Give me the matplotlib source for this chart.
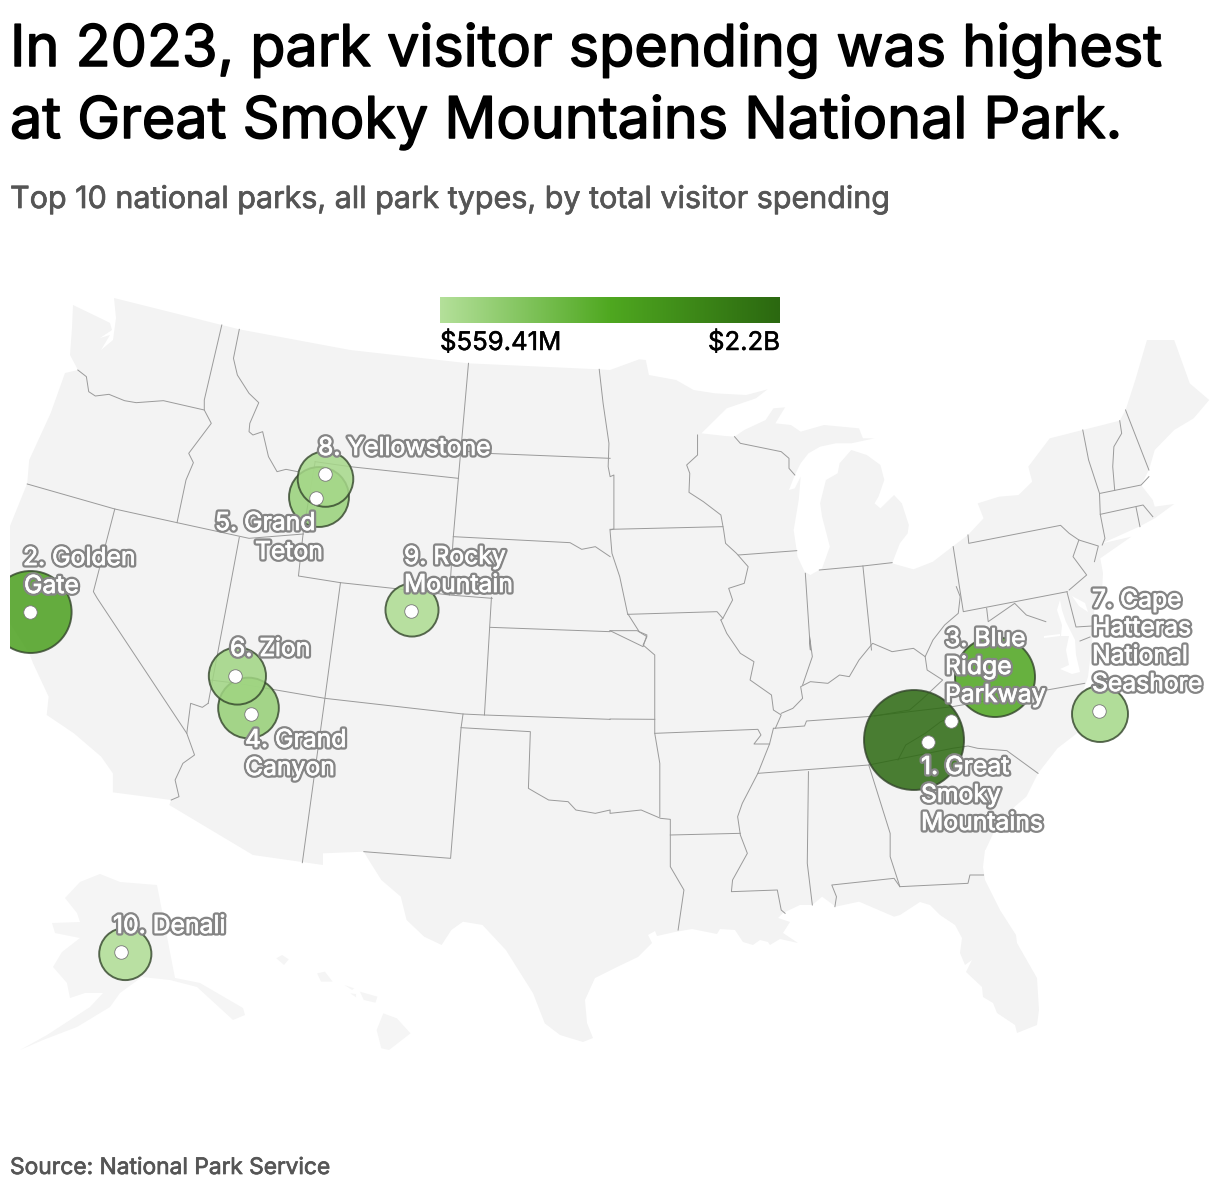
import numpy as np
import matplotlib
matplotlib.use("Agg")
import matplotlib.pyplot as plt
import matplotlib.patheffects as pe
from matplotlib.colors import LinearSegmentedColormap, Normalize
from matplotlib.patches import Circle, Polygon, Rectangle

plt.rcParams['font.family'] = ['Inter', 'DejaVu Sans']

# ---------- data ----------
parks = ["Great Smoky Mountains", "Golden Gate", "Blue Ridge Parkway", "Grand Canyon", "Grand Teton",
         "Zion", "Cape Hatteras National Seashore", "Yellowstone", "Rocky Mountain", "Denali"]
spending_b = [2.2, 1.48, 1.41, 0.81, 0.79, 0.72, 0.69, 0.68, 0.62, 0.6]
bubble_x = [914, 30.6, 995, 248.5, 319, 237.4, 1100, 325.5, 412, 125.3]
bubble_y = [740, 612, 677, 708, 497, 676, 714, 479, 610, 954]
site_x = [928, 30, 951, 251, 315.5, 235, 1099, 325, 410.5, 120.6]
site_y = [742, 612, 721, 714, 498, 676, 711, 474, 611, 952]
label_lines = [("1. Great", 921, 774), ("Smoky", 921, 802), ("Mountains", 921, 830),
               ("2. Golden", 23, 565), ("Gate", 24, 593),
               ("3. Blue", 945, 646), ("Ridge", 945, 674), ("Parkway", 945, 702),
               ("4. Grand", 245, 747), ("Canyon", 245, 775),
               ("5. Grand", 215, 530), ("Teton", 255, 559),
               ("6. Zion", 230, 656),
               ("7. Cape", 1092, 607), ("Hatteras", 1092, 635), ("National", 1092, 663), ("Seashore", 1092, 691),
               ("8. Yellowstone", 318, 455),
               ("9. Rocky", 404, 564), ("Mountain", 404, 592),
               ("10. Denali", 113, 933)]
legend_min = "$559.41M"
legend_max = "$2.2B"
title_lines = ["In 2023, park visitor spending was highest",
               "at Great Smoky Mountains National Park."]
subtitle = "Top 10 national parks, all park types, by total visitor spending"
source = "Source: National Park Service"

def Z(x0, y0, pts):
    return [(x0 + x / 2.57, y0 + y / 3.0) for x, y in pts]
def z1(p): return Z(0, 280, p)
def z2(p): return Z(610, 330, p)
def z3(p): return Z(0, 590, p)
def z4(p): return Z(610, 620, p)

conus = (
    [(73,305),(100,318),(110,323),(112,330),(100,338),(110,335),(101,350),(113,340),(116,318),(114,298)]
    + z1([(570,135),(615,148),(900,210),(1204,250),(1540,268)])
    + z2([(0,120),(75,88),(92,90),(100,135),(170,150),(215,180),(270,190),(350,195),(405,178),(375,205),(300,235),
          (235,310),(296,318),(320,320),(345,300),(400,270),(420,235),(450,232),(425,280),(465,285),(490,305),
          (550,285),(640,295),(650,325),(680,325),(620,340),(580,340),(540,350),(510,370),(490,400),(475,435),
          (460,480),(475,475),(490,440),(485,510),(475,580),(472,600),(482,680),(500,725),(515,735),(545,715),
          (565,650),(545,560),(540,520),(555,450),(585,430),(590,400),(620,360),(660,375),(695,405),(705,450),
          (690,500),(680,520),(695,535),(730,495),(750,520),(768,585),(765,610),(745,640),(725,700),(780,718),
          (830,695),(880,650),(920,615),(960,565),(945,520),(1000,500),(1050,495),(1085,455),(1075,410),(1130,325),
          (1310,272),(1325,240),(1350,150),(1380,30),(1450,30),(1490,160),(1540,210),(1500,265),(1450,300),
          (1400,360),(1385,420),(1365,465),(1395,510),(1400,530),(1450,522),(1400,565),(1360,590),(1265,640),
          (1340,620),(1260,685)])
    + [(1103,573),(1102,592),(1095,603),(1093,625),(1092,645),(1090,660),(1088,677)]
    + z4([(1190,300),(1200,340),(1150,385),(1100,460),(1070,530),(1040,560),(985,640),(965,690)])
    + [(985,850),(983,867),(985,880),(1000,910),(1016,935),(1017,943),(1037,978),(1039,1010),(1037,1025),(1017,1033),
       (1015,1025),(997,1013),(993,1003),(983,997),(982,987),(966,972),(972,960),(965,965),(960,953),(962,938),
       (955,925),(940,915),(930,905),(920,902),(900,915)]
    + z4([(730,890),(640,845),(580,860),(545,830),(520,855)])
    + [(800,905),(783,913),(778,918),(790,922),(783,933),(798,943),(780,939),(770,945),(768,942),(760,940),(753,945),
       (743,942),(735,930),(720,929),(717,934),(692,929),(675,932),(657,936),(655,931),(648,935),(652,943),(638,957),
       (617,967),(595,978),(585,1000),(587,1023),(593,1038),(583,1042),(560,1035)]
    + z3([(1400,1300),(1370,1210),(1300,1080),(1240,1005),(1190,995),(1160,1020),
          (1135,1065),(1090,1040),(1045,990),(1030,920),(980,870),(945,805),(935,785),(830,790),(830,825),(650,795),
          (435,645),(440,630),(290,607),(290,550),(260,500),(190,430),(120,375),(125,320),(85,220),(75,190),(26,100)])
    + z1([(25,740),(70,610),(75,540),(130,400)])
    + [(65,373),(78,370),(70,355),(72,328)]
)
alaska = [(65,898),(80,882),(100,874),(120,882),(157,885),(175,978),(200,983),(243,1008),(245,1015),(233,1020),(197,987),
          (170,980),(142,977),(120,993),(110,1007),(77,1027),(43,1040),(20,1050),(47,1035),(90,1007),(103,993),(85,993),
          (70,998),(67,983),(53,967),(62,952),(80,938),(55,933),(52,923),(80,922),(77,913)]
hawaii = [z3([(710,1105),(725,1095),(742,1108),(730,1125)]),
          z3([(815,1150),(835,1145),(855,1175),(825,1175)]),
          z3([(885,1185),(910,1195),(905,1200)]),
          z3([(900,1210),(915,1212),(915,1222)]),
          z3([(925,1205),(970,1220),(965,1238),(935,1230)]),
          z3([(985,1270),(1020,1285),(1055,1330),(1000,1380),(980,1375),(968,1320)])]
water = [[(1060,600),(1057,610),(1062,625),(1061,636),(1069,636),(1066,650),(1069,665),(1060,669),(1072,674),(1080,672),
          (1076,655),(1075,640),(1066,622),(1062,610)],
         [(1072,596),(1085,603),(1088,612),(1079,606)],
         [(1044,636),(1060,634),(1060,636),(1044,638)]]

borders = [
    z1([(200,270),(222,290),(228,335),(245,348),(280,343),(320,362),(350,368),(420,362),(525,390)]),
    z1([(570,135),(525,360),(525,390),(543,430),(485,520),(497,548),(478,600),(455,728)]),
    z1([(615,148),(600,235),(610,285),(640,340),(665,368),(642,430),(640,455),(650,465),(675,455),(690,530),(712,575),(735,568),(765,575)]),
    z1([(810,545),(780,750),(767,888),(875,908),(1010,925),(1155,945),(1265,955)]),
    z1([(810,545),(900,560),(1178,595)]),
    z1([(1204,250),(1178,595),(1165,770),(1155,945)]),
    z1([(1190,513),(1250,520),(1568,535)]),
    z1([(1165,770),(1465,788),(1495,808),(1530,800),(1568,830)]),
    z1([(70,612),(295,687),(455,728),(640,775),(780,762)]),
    z1([(615,772),(585,960)]) + z3([(535,340)]),
    z1([(295,687),(240,935)]) + z3([(250,25),(480,430)]),
    z1([(875,908)]) + z3([(835,325),(777,818)]),
    z3([(540,270),(610,280),(835,325),(1190,372),(1245,375),(1568,388)]) + z4([(0,297),(115,298)]),
    z3([(535,340),(520,352),(490,340),(480,430),(500,495),(470,520),(450,570),(460,620),(440,630)]),
    z3([(1263,22),(1245,375)]),
    z3([(1260,112),(1568,125)]) + z4([(0,32),(70,32),(95,50),(85,75),(115,105),(115,298),(115,340),(128,430),(128,590)]),
    z3([(1190,372),(1185,413),(1158,805),(935,785)]),
    z3([(1185,413),(1363,425),(1358,595),(1380,610),(1410,630),(1460,635),(1480,660),(1530,670),(1568,660)]) +
    z4([(0,580),(80,570),(130,595),(155,598),(155,645),(155,740),(190,810),(175,930)]),
    z4([(115,340),(380,328),(388,345),(370,372),(410,372)]),
    z4([(420,325),(410,372),(380,460),(340,550),(328,590),(335,645),(353,700),(315,780),(312,815),(430,810),(440,870),(450,880)]),
    z4([(155,645),(335,640)]),
    z4([(510,455),(507,730),(520,855)]),
    z4([(380,460),(665,435),(880,385),(920,378),(945,385),(1020,392),(1100,460)]),
    z4([(665,435),(720,640),(720,710),(745,800),(920,790),(925,765),(960,765)]),
    z4([(745,800),(730,775),(570,795),(582,830),(578,860)]),
    z4([(420,325),(500,318),(505,303),(660,290),(880,260),(1220,190)]),
    z2([(890,770),(900,800),(895,850),(860,885),(830,930)]) + z4([(810,110)]),
    z4([(285,0),(300,40),(335,100),(370,125),(360,180),(415,225),(420,270),(440,285),(425,325)]),
    z4([(440,280),(470,265),(495,235),(490,200),(515,185),(560,190),(590,165),(615,170),(640,120),(675,70),(725,95),(780,85),(810,110),(815,150),(855,180),(800,240),(770,270),(680,288)]),
    z4([(740,420),(760,375),(810,340),(850,305),(880,290)]),
    z2([(225,315),(225,375),(197,405),(205,430),(203,487),(240,515),(285,555),(292,600),(297,640),(325,670),(355,710),(345,760),(305,775),(315,810),(290,865)]) + z4([(285,0)]),
    z2([(0,598),(290,590)]),
    z2([(330,675),(480,662)]),
    z2([(45,853),(275,845),(290,865)]),
    z1([(1540,268),(1550,370),(1565,490),(1563,560),(1568,590)]) + z2([(10,435),(10,597),(0,600),(5,670),(25,740),(45,850),(75,905),(95,915),(85,950)]) + z4([(0,32)]),
    z2([(320,320),(335,340),(440,365),(460,385),(460,415),(475,435)]),
    z2([(502,730),(515,960)]) + z4([(513,50),(520,110),(495,195)]),
    z2([(538,720),(650,708),(725,698)]),
    z2([(650,708),(672,960)]),
    z2([(882,650),(908,845),(1175,785)]),
    z2([(920,615),(922,640),(1158,586),(1180,610),(1205,630),(1255,648),(1245,695)]),
    z2([(1205,630),(1190,680),(1225,735),(1180,780)]),
    [(1067,592),(1076,627),(1092,626)],
    z2([(968,835),(972,875),(1040,820),(1070,855),(1120,875)]),
    [(1080,641),(1090,637)],
    z2([(1215,300),(1230,390),(1258,490),(1260,553),(1272,625),(1265,645)]),
    z2([(1310,272),(1315,310),(1295,350),(1292,410),(1297,480)]),
    z2([(1325,240),(1385,420)]),
    z2([(1260,490),(1365,465),(1385,440)]),
    z2([(1260,553),(1370,525),(1395,560)]),
    z2([(1352,532),(1362,590)]),
]

# ---------- scales ----------
W, H = 1220, 1194
cmap = LinearSegmentedColormap.from_list("spend", ["#b4e09a", "#4fa820", "#2b6810"])
norm = Normalize(0.55941, 2.2)
radius = lambda v: 33.7 * np.sqrt(v)

fig = plt.figure(figsize=(W / 100, H / 100), dpi=100, facecolor="white")
ax = fig.add_axes([0, 0, 1, 1])
ax.set_xlim(0, W)
ax.set_ylim(H, 0)
ax.axis("off")
clip = Rectangle((10, 280), 1200, 800, transform=ax.transData)

# ---------- map ----------
LAND = "#f3f3f3"
for poly in [conus, alaska] + hawaii:
    p = Polygon(poly, closed=True, fc=LAND if poly is conus else "#f5f5f5", ec="none", zorder=1)
    ax.add_patch(p)
    p.set_clip_path(clip)
for poly in water:
    ax.add_patch(Polygon(poly, closed=True, fc="white", ec="none", zorder=1.1))
for line in borders:
    xs, ys = zip(*line)
    ax.plot(xs, ys, color="#9a9a9a", lw=0.7, zorder=2, solid_joinstyle="round")

# ---------- bubbles (largest first, so smaller ones lie on top) ----------
for v, bx, by in sorted(zip(spending_b, bubble_x, bubble_y), reverse=True):
    col = cmap(norm(v))
    c = Circle((bx, by), radius(v), fc=(*col[:3], 0.85), ec=(0.2, 0.27, 0.17, 0.8), lw=1.4, zorder=3)
    ax.add_patch(c)
    c.set_clip_path(clip)
ax.scatter(site_x, site_y, s=95, c="white", edgecolors="#777777", linewidths=0.6, zorder=4)

# ---------- labels ----------
for txt, x, y in label_lines:
    ax.text(x, y, txt, fontsize=17.8, color="white", ha="left", va="baseline", zorder=6,
            path_effects=[pe.Stroke(linewidth=3.8, foreground="#858585"),
                          pe.Stroke(linewidth=0.5, foreground="white"), pe.Normal()])

# ---------- legend ----------
grad = np.linspace(0, 1, 256)[None, :]
ax.imshow(grad, cmap=cmap, extent=(440, 780, 323.5, 298), aspect="auto", zorder=5)
ax.set_xlim(0, W)
ax.set_ylim(H, 0)
bold_k = [pe.withStroke(linewidth=0.35, foreground="black")]
ax.text(440, 350, legend_min, fontsize=18.5, color="black", ha="left", va="baseline", zorder=6, path_effects=bold_k)
ax.text(780, 350, legend_max, fontsize=18.5, color="black", ha="right", va="baseline", zorder=6, path_effects=bold_k)

# ---------- titles ----------
bold_t = [pe.withStroke(linewidth=1.1, foreground="black")]
bold_g = [pe.withStroke(linewidth=0.5, foreground="#555555")]
ax.text(10, 66, title_lines[0], fontsize=41.4, color="black", ha="left", va="baseline", path_effects=bold_t)
ax.text(10, 138, title_lines[1], fontsize=41.4, color="black", ha="left", va="baseline", path_effects=bold_t)
ax.text(10, 208, subtitle, fontsize=21.95, color="#555555", ha="left", va="baseline", path_effects=bold_g)
ax.text(10, 1174, source, fontsize=16.4, color="#555555", ha="left", va="baseline", path_effects=bold_g)

fig.savefig("out.png", dpi=100, facecolor="white")
